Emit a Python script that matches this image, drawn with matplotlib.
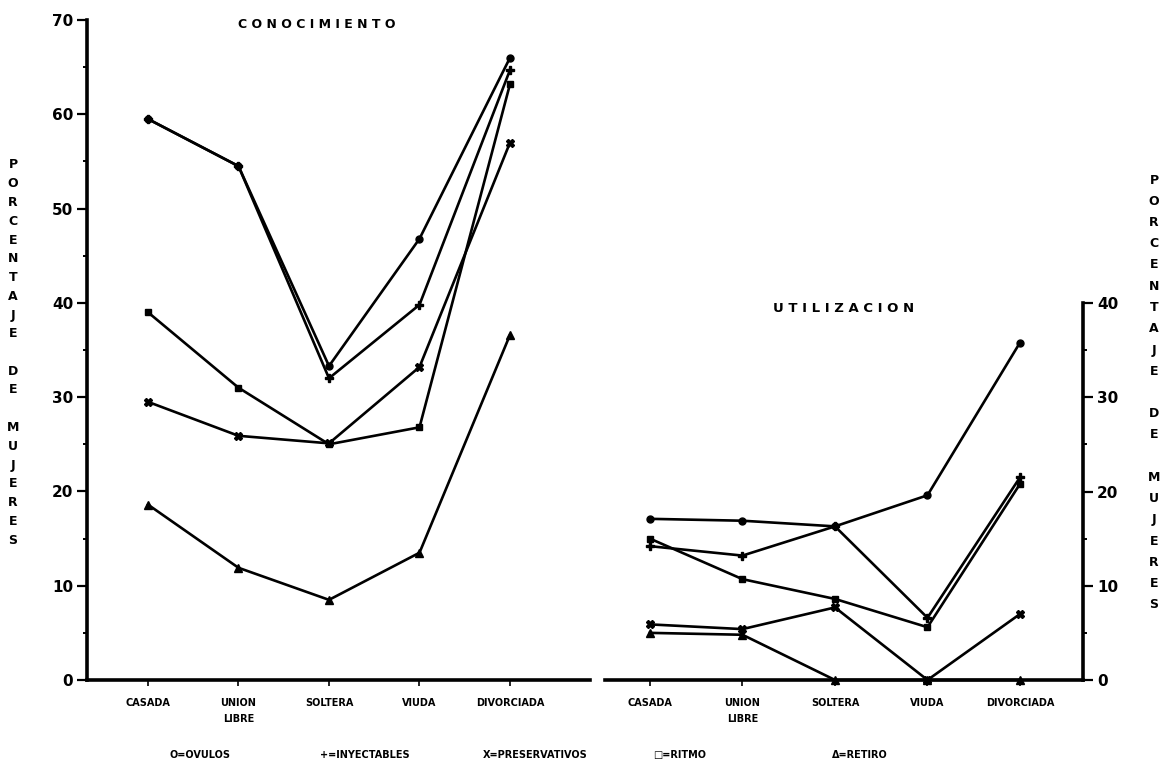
import matplotlib
matplotlib.use("Agg")
import matplotlib.pyplot as plt

# Categorías de estado civil
categorias = ["CASADA", "UNION\nLIBRE", "SOLTERA", "VIUDA", "DIVORCIADA"]

# Conocimiento de métodos (% de mujeres)
con_ovulos = [59.5, 54.5, 33.3, 46.8, 66.0]
con_inyectables = [59.5, 54.5, 32.0, 39.8, 64.7]
con_preservativos = [29.5, 25.9, 25.1, 33.2, 57.0]
con_ritmo = [39.0, 31.0, 25.0, 26.8, 63.2]
con_retiro = [18.6, 11.9, 8.5, 13.5, 36.6]

# Utilización de métodos (% de mujeres)
uti_ovulos = [17.1, 16.9, 16.3, 19.6, 35.8]
uti_inyectables = [14.2, 13.2, 16.3, 6.6, 21.5]
uti_ritmo = [15.0, 10.7, 8.6, 5.6, 20.8]
uti_preservativos = [5.9, 5.4, 7.7, 0.0, 7.0]
uti_retiro = [5.0, 4.8, 0.0, 0.0, 0.0]

ticks_con = [0, 10, 20, 30, 40, 50, 60, 70]
ticks_uti = [0, 10, 20, 30, 40]

leyenda = ["O=OVULOS", "+=INYECTABLES", "X=PRESERVATIVOS", "\u25a1=RITMO", "\u0394=RETIRO"]

FONT = "DejaVu Sans"
W, H = 1166, 775
fig = plt.figure(figsize=(W / 100, H / 100), dpi=100)
fig.patch.set_facecolor("white")


def box(x0, y0, x1, y1):
    return [x0 / W, 1 - y1 / H, (x1 - x0) / W, (y1 - y0) / H]


axL = fig.add_axes(box(87, 20, 590, 680))
axR = fig.add_axes(box(605, 303, 1083, 680))

xs = list(range(len(categorias)))
estilos = [("o", 5), ("P", 6), ("X", 6), ("s", 5), ("^", 6)]


def trazar(ax, series):
    for vals, (mk, ms) in zip(series, estilos):
        ax.plot(xs, vals, color="black", lw=1.9, marker=mk, ms=ms,
                mfc="black", mec="black", clip_on=False, zorder=3)


trazar(axL, [con_ovulos, con_inyectables, con_preservativos, con_ritmo, con_retiro])
trazar(axR, [uti_ovulos, uti_inyectables, uti_preservativos, uti_ritmo, uti_retiro])

axL.set_xlim(-0.674, 4.884)
axL.set_ylim(0, 70)
axR.set_xlim(-0.486, 4.681)
axR.set_ylim(0, 40)

for ax in (axL, axR):
    ax.set_facecolor("none")
    for s in ax.spines.values():
        s.set_linewidth(2.6)
        s.set_color("black")
    ax.spines["top"].set_visible(False)
    ax.set_xticks(xs)
    ax.set_xticklabels(categorias, fontsize=7, fontweight="bold",
                       family=FONT, linespacing=1.7)
    ax.tick_params(axis="x", length=4, width=1.2, pad=9)

axL.spines["right"].set_visible(False)
axL.set_yticks(ticks_con)
axL.set_yticklabels([str(t) for t in ticks_con], fontsize=11,
                    fontweight="bold", family=FONT)
axL.tick_params(axis="y", length=7, width=1.6, pad=3)
axL.set_yticks([5, 15, 25, 35, 45, 55, 65], minor=True)
axL.tick_params(axis="y", which="minor", length=3, width=1.4)

axR.spines["left"].set_visible(False)
axR.yaxis.tick_right()
axR.set_yticks(ticks_uti)
axR.set_yticklabels([str(t) for t in ticks_uti], fontsize=11,
                    fontweight="bold", family=FONT)
axR.tick_params(axis="y", length=7, width=1.6, pad=3)
axR.set_yticks([5, 15, 25, 35], minor=True)
axR.tick_params(axis="y", which="minor", length=3, width=1.4)

# Títulos de cada panel
fig.text(317 / W, 1 - 25 / H, " ".join("CONOCIMIENTO"), ha="center",
         va="center", fontsize=9, fontweight="bold", family=FONT)
fig.text(844 / W, 1 - 308 / H, " ".join("UTILIZACION"), ha="center",
         va="center", fontsize=9.5, fontweight="bold", family=FONT)


def vertical(x, y_top, y_bot, texto):
    """Escribe el texto letra por letra en columna."""
    lineas = list(texto)
    paso = (y_bot - y_top) / (len(lineas) - 1)
    for i, c in enumerate(lineas):
        if c == " ":
            continue
        fig.text(x / W, 1 - (y_top + i * paso) / H, c, ha="center",
                 va="center", fontsize=9, fontweight="bold", family=FONT)


vertical(13, 165, 540, "PORCENTAJE DE MUJERES")
vertical(1154, 180, 605, "PORCENTAJE DE MUJERES")

# Leyenda de símbolos
for txt, xp in zip(leyenda, [200, 365, 535, 680, 860]):
    fig.text(xp / W, 1 - 755 / H, txt, ha="center", va="center",
             fontsize=7, fontweight="bold", family=FONT)

fig.savefig("out.png", dpi=100, facecolor="white")
